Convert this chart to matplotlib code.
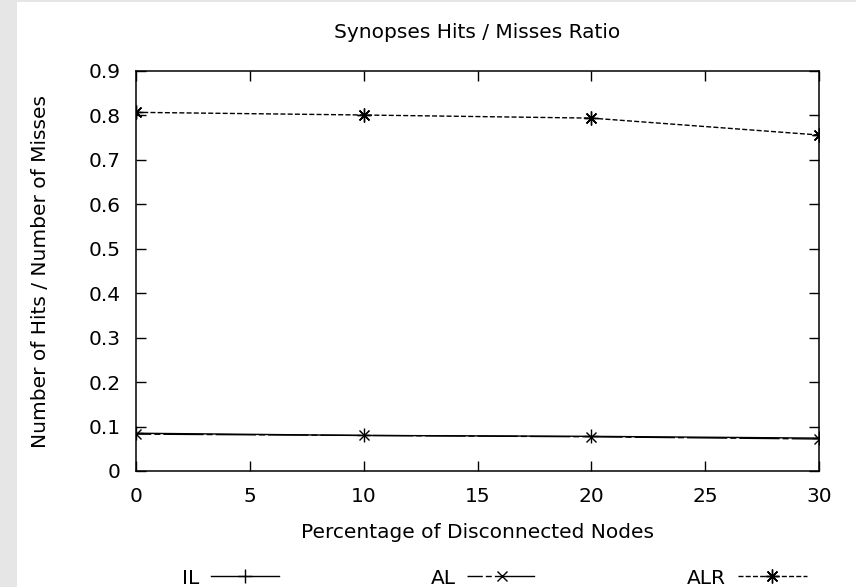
import matplotlib
matplotlib.use("Agg")
import matplotlib.pyplot as plt
from matplotlib.patches import Rectangle
from matplotlib.ticker import FuncFormatter

# Data: hits/misses ratio per percentage of disconnected nodes
disconnected_pct = [0, 10, 20, 30]
il_ratio = [0.085, 0.080, 0.078, 0.074]
al_ratio = [0.083, 0.080, 0.077, 0.072]
alr_ratio = [0.807, 0.801, 0.794, 0.756]

series_labels = ["IL", "AL", "ALR"]
x_ticks = [0, 5, 10, 15, 20, 25, 30]
y_ticks = [0, 0.1, 0.2, 0.3, 0.4, 0.5, 0.6, 0.7, 0.8, 0.9]

title_text = "Synopses Hits / Misses Ratio"
x_label = "Percentage of Disconnected Nodes"
y_label = "Number of Hits / Number of Misses"

FS = 14.5
plt.rcParams["font.family"] = ["DejaVu Sans"]

W, H = 856, 587
fig = plt.figure(figsize=(W / 100, H / 100), dpi=100)
fig.patch.set_facecolor("white")

# light grey frame strip on the left and top
fig.add_artist(Rectangle((0, 0), 17 / W, 1, transform=fig.transFigure,
                         facecolor="#e6e6e6", edgecolor="none", zorder=0))
fig.add_artist(Rectangle((0, 1 - 2 / H), 1, 2 / H, transform=fig.transFigure,
                         facecolor="#e6e6e6", edgecolor="none", zorder=0))

ax_l, ax_r, ax_t, ax_b = 136, 819, 71, 471
ax = fig.add_axes([ax_l / W, 1 - ax_b / H, (ax_r - ax_l) / W, (ax_b - ax_t) / H])

ax.plot(disconnected_pct, il_ratio, color="black", lw=1.0, ls="-",
        marker="+", ms=10, mew=1.0, label=series_labels[0])
ax.plot(disconnected_pct, al_ratio, color="black", lw=1.0,
        ls=(18, (29, 2.2, 4.3, 2.2)),
        marker="x", ms=7, mew=1.0, label=series_labels[1])
ax.plot(disconnected_pct, alr_ratio, color="black", lw=1.0,
        ls=(0, (3.6, 1.6)),
        marker=(8, 2, 0), ms=10, mew=1.0, label=series_labels[2])

ax.set_xlim(0, 30)
ax.set_ylim(0, 0.9)
ax.set_xticks(x_ticks)
ax.set_yticks(y_ticks)
ax.yaxis.set_major_formatter(FuncFormatter(lambda v, p: f"{v:g}"))
ax.tick_params(direction="in", length=7.2, width=1.0, top=True, right=True,
               labelsize=FS, colors="black")
ax.tick_params(axis="x", pad=11.5)
ax.tick_params(axis="y", pad=11)
for s in ax.spines.values():
    s.set_linewidth(1.1)
    s.set_color("black")

cx = (ax_l + ax_r) / 2 / W
cy = 1 - (ax_t + ax_b) / 2 / H
fig.text(cx, 1 - 33 / H, title_text, ha="center", va="center", fontsize=FS)
fig.text(cx, 1 - 532 / H, x_label, ha="center", va="center", fontsize=FS)
fig.text(41 / W, cy, y_label, ha="center", va="center", rotation=90, fontsize=FS)

leg = ax.legend(loc="center", bbox_to_anchor=(494 / W, 1 - 578 / H),
                bbox_transform=fig.transFigure, ncol=3, frameon=False,
                markerfirst=False, numpoints=1, handlelength=3.4,
                handletextpad=0.6, columnspacing=7.5, fontsize=FS)

fig.savefig("out.png", dpi=100)
